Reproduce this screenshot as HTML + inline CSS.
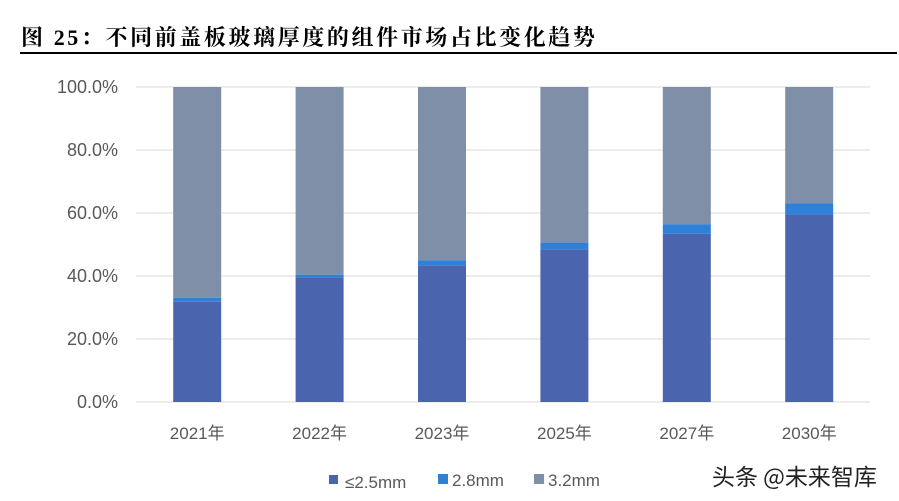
<!DOCTYPE html>
<html><head><meta charset="utf-8"><style>
html,body{margin:0;padding:0;background:#fff;width:899px;height:501px;overflow:hidden}
svg{display:block}
</style></head><body>
<svg width="899" height="501" xmlns="http://www.w3.org/2000/svg">
<text x="21" y="45" font-family="'Liberation Serif','Noto Serif CJK SC',serif" font-weight="bold" font-size="22" letter-spacing="2.6" fill="#000">图 25：不同前盖板玻璃厚度的组件市场占比变化趋势</text>
<rect x="20" y="52" width="877" height="2" fill="#000"/>
<g id="grid"></g><g id="bars"></g><g id="labels"></g>
<g font-family="'Liberation Sans','Noto Sans CJK SC',sans-serif" font-size="17" fill="#595959">
<rect x="329" y="475" width="9" height="9" fill="#4a65ad"/>
<text x="345" y="488">≤2.5mm</text>
<rect x="438" y="474" width="10" height="10" fill="#2e80d8"/>
<text x="452" y="486">2.8mm</text>
<rect x="534" y="474" width="10" height="10" fill="#7f8fa8"/>
<text x="548" y="486">3.2mm</text>
</g>
<text x="712" y="485" font-family="'Noto Sans CJK SC',sans-serif" font-size="23" fill="#222">头条 @未来智库</text>
</svg>
<script>
const categories=["2021年","2022年","2023年","2025年","2027年","2030年"];
const s25=[31.8,39.6,43.4,48.5,53.4,59.5];
const s28=[1.3,0.8,1.6,2.1,3.0,3.6];
const yTicks=[0,20,40,60,80,100];
const yTickLabels=["0.0%","20.0%","40.0%","60.0%","80.0%","100.0%"];
const NS="http://www.w3.org/2000/svg";
const y=v=>402-v*3.15;
const x0=136,step=122.4,bw=48;
const xc=i=>x0+step*(i+0.5);
function mk(tag,attrs,parent){const e=document.createElementNS(NS,tag);for(const k in attrs)e.setAttribute(k,attrs[k]);parent.appendChild(e);return e;}
const grid=document.getElementById('grid'),bars=document.getElementById('bars'),labels=document.getElementById('labels');
const F="'Liberation Sans','Noto Sans CJK SC',sans-serif";
yTicks.forEach((t,i)=>{
 const l=mk('line',{x1:x0,x2:870,y1:y(t),y2:y(t),stroke:'#d9d9d9','stroke-width':1},grid);
 
 
 const tx=mk('text',{x:118,y:y(t)+6,'text-anchor':'end','font-family':F,'font-size':18,fill:'#595959'},labels);
 tx.textContent=yTickLabels[i];
 
 
});
categories.forEach((c,i)=>{
 const a=s25[i],b=s28[i],cx=xc(i)-bw/2;
 const r3=mk('rect',{x:cx,y:y(100),width:bw,height:y(a+b)-y(100),fill:'#7f8fa8'},bars);
 
 
 const r2=mk('rect',{x:cx,y:y(a+b),width:bw,height:y(a)-y(a+b),fill:'#2e80d8'},bars);
 
 
 const r1=mk('rect',{x:cx,y:y(a),width:bw,height:y(0)-y(a),fill:'#4a65ad'},bars);
 
 
 const tx=mk('text',{x:xc(i),y:439,'text-anchor':'middle','font-family':F,'font-size':17,fill:'#595959'},labels);
 tx.textContent=c;
 
 
});
</script>
</body></html>
